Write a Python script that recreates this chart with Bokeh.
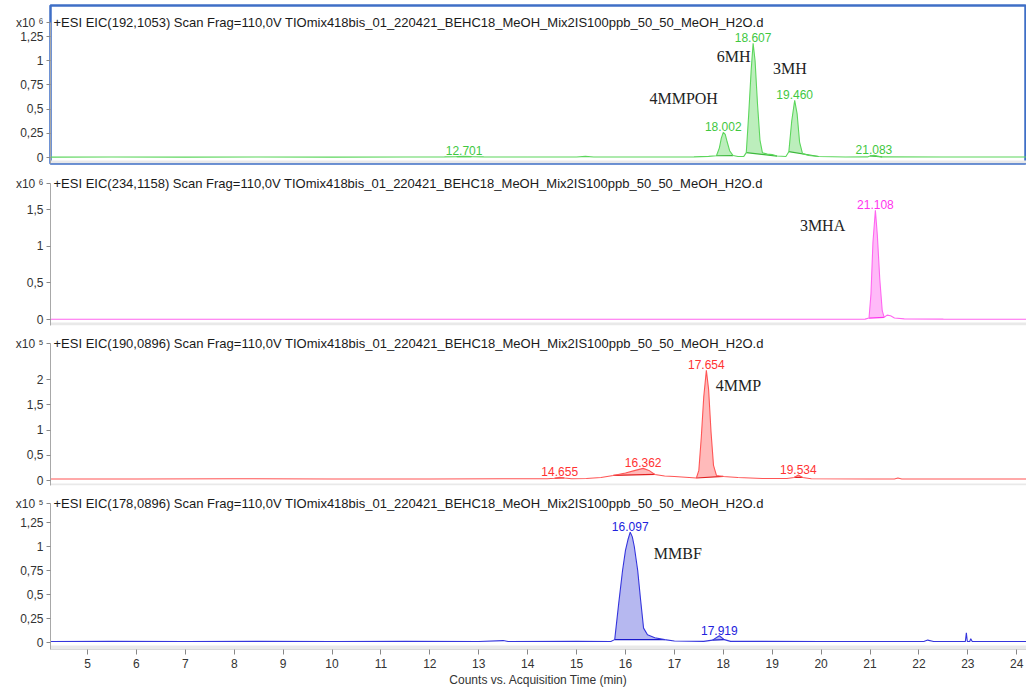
import numpy as np
from bokeh.plotting import figure
from bokeh.layouts import column
from bokeh.models import Range1d, FixedTicker, CustomJSTickFormatter, Label, BoxAnnotation, ColumnDataSource
from bokeh.core.properties import value
from bokeh.embed import file_html
from bokeh.resources import INLINE

X_START, X_END = 4.243, 24.2
x_ticks = list(range(5, 25))
x_title = "Counts vs. Acquisition Time (min)"

titles = [
    "+ESI EIC(192,1053) Scan Frag=110,0V TIOmix418bis_01_220421_BEHC18_MeOH_Mix2IS100ppb_50_50_MeOH_H2O.d",
    "+ESI EIC(234,1158) Scan Frag=110,0V TIOmix418bis_01_220421_BEHC18_MeOH_Mix2IS100ppb_50_50_MeOH_H2O.d",
    "+ESI EIC(190,0896) Scan Frag=110,0V TIOmix418bis_01_220421_BEHC18_MeOH_Mix2IS100ppb_50_50_MeOH_H2O.d",
    "+ESI EIC(178,0896) Scan Frag=110,0V TIOmix418bis_01_220421_BEHC18_MeOH_Mix2IS100ppb_50_50_MeOH_H2O.d",
]
multipliers = ["x10 \u2076", "x10 \u2076", "x10 \u2075", "x10 \u2075"]

# ---- Panel 1 (x10^6) ----
t1 = [4.25, 5.5, 7.0, 8.5, 10.0, 11.5, 12.3, 12.55, 12.7, 12.85, 13.1, 14.0, 15.0, 15.18, 15.35, 16.5, 17.4,
      17.7, 17.86, 17.92, 17.96, 18.0, 18.04, 18.08, 18.13, 18.2, 18.3, 18.42, 18.47, 18.52, 18.57, 18.61,
      18.65, 18.7, 18.75, 18.8, 18.9, 19.0, 19.1, 19.28, 19.34, 19.4, 19.46, 19.51, 19.56, 19.62, 19.75,
      19.95, 20.5, 20.95, 21.0, 21.08, 21.15, 21.25, 22.5, 24.2]
y1 = [0.004, 0.005, 0.004, 0.005, 0.004, 0.005, 0.006, 0.009, 0.012, 0.009, 0.006, 0.005, 0.005, 0.012, 0.005,
      0.005, 0.006, 0.012, 0.018, 0.1, 0.2, 0.26, 0.24, 0.16, 0.07, 0.02, 0.01, 0.012, 0.05, 0.45, 0.9, 1.18,
      1.0, 0.55, 0.18, 0.05, 0.035, 0.03, 0.015, 0.01, 0.06, 0.38, 0.59, 0.45, 0.16, 0.04, 0.02, 0.01, 0.005,
      0.006, 0.016, 0.022, 0.014, 0.006, 0.005, 0.005]
rt1 = ["12.701", "18.002", "18.607", "19.460", "21.083"]
rtx1 = [12.7, 18.0, 18.61, 19.46, 21.08]
rth1 = [0.012, 0.26, 1.18, 0.59, 0.022]
win1 = [(12.55, 12.85), (17.86, 18.2), (18.47, 19.1), (19.34, 19.95), (21.0, 21.25)]
names1 = ["4MMPOH", "6MH", "3MH"]
names1_x = [17.19, 18.21, 19.36]
names1_y = [0.61, 1.04, 0.92]
yt1 = [0, 0.25, 0.5, 0.75, 1, 1.25]

# ---- Panel 2 (x10^6) ----
t2 = [4.25, 7, 10, 13, 16, 18, 20, 20.9, 20.98, 21.02, 21.06, 21.11, 21.15, 21.2, 21.25, 21.29, 21.35, 21.42,
      21.5, 21.7, 22.5, 24.2]
y2 = [0.004, 0.004, 0.004, 0.004, 0.004, 0.004, 0.004, 0.005, 0.02, 0.35, 1.05, 1.49, 1.15, 0.55, 0.12, 0.03,
      0.06, 0.05, 0.02, 0.008, 0.005, 0.004]
rt2 = ["21.108"]
rtx2 = [21.11]
rth2 = [1.49]
win2 = [(20.98, 21.29)]
names2 = ["3MHA"]
names2_x = [20.03]
names2_y = [1.28]
yt2 = [0, 0.5, 1, 1.5]

# ---- Panel 3 (x10^5) ----
t3 = [4.25, 6, 8, 10, 12, 13.5, 14.4, 14.55, 14.655, 14.75, 14.9, 15.2, 15.5, 15.75, 16.0, 16.2, 16.362, 16.48,
      16.6, 16.8, 17.0, 17.3, 17.45, 17.5, 17.55, 17.6, 17.654, 17.7, 17.75, 17.8, 17.86, 18.0, 18.3, 18.8,
      19.3, 19.45, 19.534, 19.62, 19.8, 21.0, 21.5, 21.57, 21.65, 23, 24.2]
y3 = [0.03, 0.03, 0.035, 0.03, 0.03, 0.035, 0.035, 0.045, 0.065, 0.05, 0.035, 0.04, 0.06, 0.1, 0.15, 0.2, 0.24,
      0.2, 0.12, 0.09, 0.08, 0.06, 0.05, 0.2, 0.85, 1.65, 2.18, 1.8, 0.95, 0.3, 0.1, 0.08, 0.06, 0.04, 0.04,
      0.06, 0.11, 0.06, 0.035, 0.03, 0.03, 0.05, 0.03, 0.03, 0.03]
rt3 = ["14.655", "16.362", "17.654", "19.534"]
rtx3 = [14.655, 16.362, 17.654, 19.534]
rth3 = [0.065, 0.24, 2.18, 0.11]
win3 = [(14.55, 14.75), (15.75, 16.6), (17.45, 18.0), (19.45, 19.62)]
names3 = ["4MMP"]
names3_x = [18.31]
names3_y = [1.88]
yt3 = [0, 0.5, 1, 1.5, 2]

# ---- Panel 4 (x10^5) ----
t4 = [4.25, 5.5, 7, 8.5, 10, 11.5, 13, 13.5, 13.6, 15, 15.7, 15.78, 15.86, 15.94, 16.0, 16.05, 16.097, 16.14,
      16.18, 16.25, 16.31, 16.37, 16.45, 16.6, 16.8, 17.0, 17.6, 17.78, 17.919, 18.02, 18.15, 20, 22.1, 22.18,
      22.3, 22.95, 22.97, 22.99, 23.04, 23.06, 23.09, 24.2]
y4 = [0.01, 0.012, 0.01, 0.012, 0.01, 0.012, 0.01, 0.02, 0.01, 0.012, 0.01, 0.03, 0.4, 0.75, 0.96, 1.07, 1.15,
      1.1, 1.0, 0.75, 0.44, 0.15, 0.08, 0.05, 0.03, 0.015, 0.012, 0.025, 0.07, 0.03, 0.012, 0.01, 0.01, 0.025,
      0.01, 0.01, 0.1, 0.01, 0.01, 0.04, 0.01, 0.01]
rt4 = ["16.097", "17.919"]
rtx4 = [16.097, 17.919]
rth4 = [1.15, 0.07]
win4 = [(15.78, 16.8), (17.78, 18.02)]
names4 = ["MMBF"]
names4_x = [17.07]
names4_y = [0.93]
yt4 = [0, 0.25, 0.5, 0.75, 1, 1.25]

panels = [
    dict(t=t1, y=y1, rt=rt1, rtx=rtx1, rth=rth1, win=win1, names=names1, nx=names1_x, ny=names1_y, yt=yt1,
         scale=96.8, fh=158, top=5, bottom=4, zero_up=6, title_dy=17,
         line="#5cd65c", fill="#b5ecb5", text="#3fc83f", base="#3cb83c"),
    dict(t=t2, y=y2, rt=rt2, rtx=rtx2, rth=rth2, win=win2, names=names2, nx=names2_x, ny=names2_y, yt=yt2,
         scale=73.3, fh=158, top=0, bottom=2, zero_up=6, title_dy=16,
         line="#ff66f0", fill="#ffb3f7", text="#ff33ee", base="#ff33ee"),
    dict(t=t3, y=y3, rt=rt3, rtx=rtx3, rth=rth3, win=win3, names=names3, nx=names3_x, ny=names3_y, yt=yt3,
         scale=50.5, fh=158, top=0, bottom=2, zero_up=5, title_dy=16,
         line="#ff5555", fill="#ffb3b3", text="#ff3333", base="#e02020"),
    dict(t=t4, y=y4, rt=rt4, rtx=rtx4, rth=rth4, win=win4, names=names4, nx=names4_x, ny=names4_y, yt=yt4,
         scale=96.0, fh=162, top=0, bottom=0, zero_up=7, title_dy=16,
         line="#3535dd", fill="#aeb0ee", text="#2222dd", base="#1a1acc"),
]

SANS = "Liberation Sans"
SERIF = "Liberation Serif"

figs = []
for i, pd_ in enumerate(panels):
    last = i == len(panels) - 1
    ystart = -pd_["zero_up"] / pd_["scale"]
    yend = ystart + pd_["fh"] / pd_["scale"]
    title_y = yend - pd_["title_dy"] / pd_["scale"]
    p = figure(frame_width=976, frame_height=pd_["fh"], x_range=Range1d(X_START, X_END),
               y_range=Range1d(ystart, yend), output_backend="svg", toolbar_location=None,
               x_axis_location="below" if last else None,
               min_border_left=50, min_border_right=0, min_border_top=pd_["top"],
               min_border_bottom=pd_["bottom"], background_fill_color="white", border_fill_color="white")
    p.grid.visible = False
    if i == 0:
        p.outline_line_color = "#3f6fc6"
        p.outline_line_width = 2.5
    else:
        p.outline_line_color = None

    # y axis (the multiplier "x10^n" sits as a label at the title row)
    ya = p.yaxis[0]
    ya.ticker = FixedTicker(ticks=pd_["yt"] + [title_y])
    ya.formatter = CustomJSTickFormatter(args=dict(T=title_y, M=multipliers[i]), code="""
        if (Math.abs(tick - T) < 1e-9) { return M; }
        return String(tick).replace('.', ',');
    """)
    ya.bounds = (ystart, title_y)
    ya.axis_line_color = "#a8a8a8"
    ya.major_tick_line_color = "#888888"
    ya.major_tick_out = 4
    ya.major_tick_in = 0
    ya.minor_tick_line_color = None
    ya.major_label_text_font = SANS
    ya.major_label_text_font_size = "12px"
    ya.major_label_text_color = "#333333"
    ya.major_label_standoff = 3

    if last:
        xa = p.xaxis[0]
        xa.ticker = FixedTicker(ticks=x_ticks)
        xa.axis_line_color = "#d8d8d8"
        xa.major_tick_line_color = "#888888"
        xa.major_tick_out = 5
        xa.major_tick_in = 0
        xa.minor_tick_line_color = None
        xa.major_label_text_font = SANS
        xa.major_label_text_font_size = "12px"
        xa.major_label_text_color = "#333333"
        xa.major_label_standoff = 4
        xa.axis_label = x_title
        xa.axis_label_text_font = SANS
        xa.axis_label_text_font_size = "12px"
        xa.axis_label_text_font_style = "normal"
        xa.axis_label_text_color = "#333333"
        xa.axis_label_standoff = 2

    # grey strip at bottom of panel
    p.add_layout(BoxAnnotation(top=-3.0 / pd_["scale"], fill_color="#e9e9e9", fill_alpha=1.0,
                               line_alpha=0, level="underlay"))

    t = np.array(pd_["t"])
    y = np.array(pd_["y"])
    # integrated peak fills
    for (a, b) in pd_["win"]:
        m = (t >= a - 1e-9) & (t <= b + 1e-9)
        tt, yy = t[m], y[m]
        ya_, yb_ = yy[0], yy[-1]
        base = ya_ + (yb_ - ya_) * (tt - tt[0]) / (tt[-1] - tt[0])
        p.varea(x=tt, y1=base, y2=yy, fill_color=pd_["fill"], fill_alpha=0.9)
        p.line(x=[tt[0], tt[-1]], y=[ya_, yb_], line_color=pd_["base"], line_width=1.2)
    p.line(x=t, y=y, line_color=pd_["line"], line_width=1.1)

    # retention-time labels
    src = ColumnDataSource(dict(x=pd_["rtx"], y=pd_["rth"], text=pd_["rt"]))
    p.text(x="x", y="y", text="text", source=src, text_align="center", text_baseline="bottom",
           y_offset=-1, text_font=value(SANS), text_font_size="12px", text_color=pd_["text"])
    # compound names
    nsrc = ColumnDataSource(dict(x=pd_["nx"], y=pd_["ny"], text=pd_["names"]))
    p.text(x="x", y="y", text="text", source=nsrc, text_align="center", text_baseline="middle",
           text_font=value(SERIF), text_font_size="16px", text_color="#222222")

    # panel title
    p.add_layout(Label(x=X_START, y=title_y, x_offset=3, text=titles[i],
                       text_align="left", text_baseline="middle", text_font=SANS,
                       text_font_size="13px", text_color="#1a1a1a"))
    figs.append(p)

layout = column(*figs, spacing=0)
open("out.html", "w").write(file_html(layout, INLINE))
